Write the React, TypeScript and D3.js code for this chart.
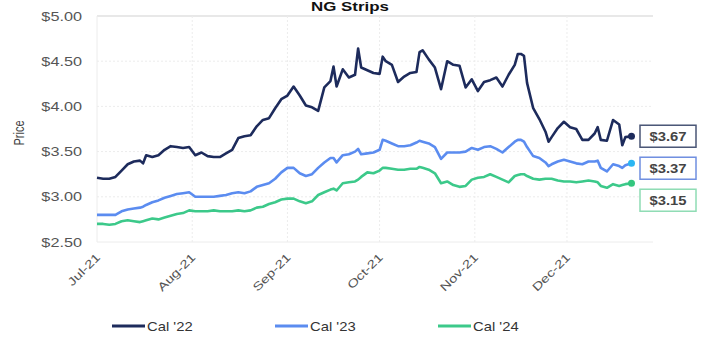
import React from "react";
import * as d3 from "d3";

const dates = [
  "2021-07-01","2021-07-03","2021-07-05","2021-07-07","2021-07-09","2021-07-11","2021-07-13","2021-07-15","2021-07-16","2021-07-17","2021-07-19","2021-07-21","2021-07-23","2021-07-25","2021-07-27","2021-07-29","2021-07-31",
  "2021-08-02","2021-08-04","2021-08-06","2021-08-08","2021-08-10","2021-08-12","2021-08-14","2021-08-16","2021-08-18","2021-08-20","2021-08-22","2021-08-24","2021-08-26","2021-08-28","2021-08-30",
  "2021-09-01","2021-09-03","2021-09-05","2021-09-07","2021-09-09","2021-09-11","2021-09-13","2021-09-15","2021-09-16","2021-09-17","2021-09-19","2021-09-21","2021-09-23","2021-09-24","2021-09-25","2021-09-27","2021-09-29",
  "2021-10-01","2021-10-02","2021-10-03","2021-10-05","2021-10-07","2021-10-09","2021-10-11","2021-10-13","2021-10-14","2021-10-15","2021-10-17","2021-10-19","2021-10-21","2021-10-23","2021-10-25","2021-10-27","2021-10-29","2021-10-31",
  "2021-11-02","2021-11-04","2021-11-06","2021-11-08","2021-11-10","2021-11-12","2021-11-14","2021-11-15","2021-11-16","2021-11-17","2021-11-18","2021-11-20","2021-11-22","2021-11-24","2021-11-25","2021-11-26","2021-11-28","2021-11-30",
  "2021-12-02","2021-12-04","2021-12-06","2021-12-08","2021-12-10","2021-12-11","2021-12-12","2021-12-14","2021-12-16","2021-12-18","2021-12-19","2021-12-20","2021-12-22",
];

const cal22 = [
  3.21,3.20,3.20,3.22,3.29,3.36,3.39,3.40,3.37,3.46,3.44,3.46,3.52,3.56,3.55,3.54,3.55,
  3.46,3.49,3.45,3.44,3.44,3.48,3.52,3.65,3.67,3.68,3.78,3.85,3.87,3.98,4.08,
  4.12,4.22,4.12,4.01,3.99,3.95,4.21,4.28,4.44,4.22,4.41,4.32,4.35,4.64,4.43,4.40,4.37,
  4.36,4.55,4.50,4.46,4.27,4.33,4.37,4.38,4.60,4.62,4.52,4.43,4.19,4.50,4.46,4.45,4.21,4.30,
  4.17,4.27,4.29,4.32,4.22,4.35,4.46,4.58,4.58,4.56,4.26,3.98,3.86,3.72,3.61,3.66,3.76,3.83,
  3.77,3.75,3.63,3.63,3.70,3.77,3.63,3.62,3.85,3.80,3.57,3.66,3.67,
];

const cal23 = [
  2.80,2.80,2.80,2.80,2.84,2.86,2.87,2.88,2.89,2.91,2.94,2.96,2.99,3.01,3.03,3.04,3.05,
  3.00,3.00,3.00,3.00,3.01,3.02,3.04,3.05,3.04,3.06,3.11,3.13,3.15,3.20,3.27,
  3.32,3.32,3.26,3.23,3.25,3.32,3.38,3.43,3.43,3.38,3.46,3.47,3.50,3.53,3.47,3.48,3.49,
  3.52,3.63,3.62,3.59,3.56,3.56,3.57,3.60,3.62,3.61,3.59,3.55,3.42,3.49,3.49,3.49,3.50,3.54,
  3.52,3.55,3.56,3.53,3.49,3.55,3.61,3.63,3.63,3.61,3.55,3.45,3.43,3.38,3.34,3.36,3.39,3.41,
  3.39,3.37,3.36,3.39,3.39,3.40,3.32,3.28,3.36,3.34,3.32,3.35,3.37,
];

const cal24 = [
  2.70,2.70,2.69,2.70,2.73,2.74,2.73,2.72,2.73,2.74,2.76,2.75,2.77,2.79,2.81,2.82,2.85,
  2.84,2.84,2.84,2.85,2.84,2.84,2.84,2.85,2.84,2.85,2.88,2.89,2.92,2.94,2.97,
  2.98,2.98,2.95,2.93,2.95,3.02,3.05,3.08,3.09,3.07,3.15,3.16,3.17,3.19,3.22,3.27,3.26,
  3.29,3.32,3.32,3.31,3.30,3.30,3.31,3.31,3.33,3.32,3.30,3.26,3.15,3.17,3.13,3.11,3.12,3.19,
  3.21,3.22,3.25,3.22,3.19,3.16,3.23,3.24,3.25,3.25,3.23,3.20,3.19,3.20,3.20,3.20,3.18,3.17,
  3.17,3.16,3.17,3.18,3.17,3.16,3.12,3.10,3.14,3.12,3.13,3.14,3.15,
];

const seriesNames = ["Cal '22", "Cal '23", "Cal '24"];
const seriesColors = ["#1d2b5c", "#5b8cf0", "#3cc98a"];
const dotColors = ["#1d2b5c", "#2bb6f2", "#34c77f"];
const boxBorders = ["#4a5676", "#6f8fe0", "#8fdcb4"];
const yTicks = [2.5, 3.0, 3.5, 4.0, 4.5, 5.0];
const monthTicks = ["2021-07-01","2021-08-01","2021-09-01","2021-10-01","2021-11-01","2021-12-01"];
const xDomain = ["2021-07-01", "2021-12-29"];
const title = "NG Strips";
const yTitle = "Price";

const W = 704, H = 350;
const M = { left: 97, right: 653, top: 16, bottom: 242 };
const SX = 1.3;
const FONT = "'Liberation Sans', Arial, sans-serif";

export default function App() {
  const parse = d3.timeParse("%Y-%m-%d");
  const x = d3.scaleTime().domain(xDomain.map((s) => parse(s)!)).range([M.left, M.right]);
  const y = d3.scaleLinear().domain([2.5, 5]).range([M.bottom, M.top]);
  const fmtMoney = (v: number) => "$" + d3.format(".2f")(v);
  const fmtMonth = d3.timeFormat("%b-%y");
  const series = [cal22, cal23, cal24];
  const pd = dates.map((s) => parse(s)!);
  const line = d3.line<number>().x((_, i) => x(pd[i])).y((v) => y(v));

  const lastX = x(pd[pd.length - 1]);
  const ends = series.map((s) => y(s[s.length - 1]));
  const labelY: number[] = [];
  ends.forEach((v, i) => {
    labelY.push(i === 0 ? v : Math.max(v, labelY[i - 1] + 32));
  });

  const legendX = [112, 275, 438];

  return (
    <div style={{ position: "absolute", left: 0, top: 0 }}>
      <svg width={W} height={H} style={{ display: "block", background: "#fff" }} fontFamily={FONT}>
        <text transform={`translate(350,11) scale(${SX},1)`} textAnchor="middle" fontSize={13} fontWeight="bold" fill="#111">
          {title}
        </text>
        {yTicks.map((t) => (
          <line key={t} x1={M.left} x2={M.right} y1={y(t)} y2={y(t)}
            stroke={t === 5 ? "#e0e0e0" : "#ececec"} strokeWidth={t === 5 ? 1.5 : 1}
            strokeDasharray={t === 5 || t === 2.5 ? undefined : "2,2"} />
        ))}
        {monthTicks.map((m) => {
          const xx = x(parse(m)!);
          return <line key={m} x1={xx} x2={xx} y1={M.top} y2={M.bottom} stroke="#ececec" strokeDasharray={xx === M.left ? undefined : "2,2"} />;
        })}
        {yTicks.map((t) => (
          <text key={t} transform={`translate(82,${y(t) + 4.5}) scale(${SX},1)`} textAnchor="end" fontSize={12.5} fill="#555">
            {fmtMoney(t)}
          </text>
        ))}
        <text transform={`translate(24,${(M.top + M.bottom) / 2 + 4}) rotate(-90) scale(1,${SX})`} textAnchor="middle" fontSize={11} fill="#444">
          {yTitle}
        </text>
        {monthTicks.map((m) => {
          const xx = x(parse(m)!);
          return (
            <text key={m} transform={`translate(${xx + 4},${M.bottom + 16}) rotate(-45) scale(${SX},1)`} textAnchor="end" fontSize={11.5} fill="#555">
              {fmtMonth(parse(m)!)}
            </text>
          );
        })}
        {series.map((s, i) => (
          <path key={i} d={line(s) || ""} fill="none" stroke={seriesColors[i]} strokeWidth={2.6} strokeLinejoin="round" />
        ))}
        {series.map((s, i) => (
          <circle key={i} cx={lastX} cy={ends[i]} r={3.5} fill={dotColors[i]} />
        ))}
        {series.map((s, i) => (
          <g key={i}>
            <rect x={640} y={labelY[i] - 11} width={56} height={22} fill="#fff" stroke={boxBorders[i]} strokeWidth={1.5} />
            <text transform={`translate(668,${labelY[i] + 4.5}) scale(${SX * 0.95},1)`} textAnchor="middle" fontSize={12} fontWeight="bold" fill="#444">
              {fmtMoney(s[s.length - 1])}
            </text>
          </g>
        ))}
        {seriesNames.map((n, i) => (
          <g key={n}>
            <line x1={legendX[i]} x2={legendX[i] + 33} y1={326} y2={326} stroke={seriesColors[i]} strokeWidth={3} />
            <text transform={`translate(${legendX[i] + 35},${330.5}) scale(${SX * 0.95},1)`} fontSize={12} fill="#333">
              {n}
            </text>
          </g>
        ))}
      </svg>
    </div>
  );
}
